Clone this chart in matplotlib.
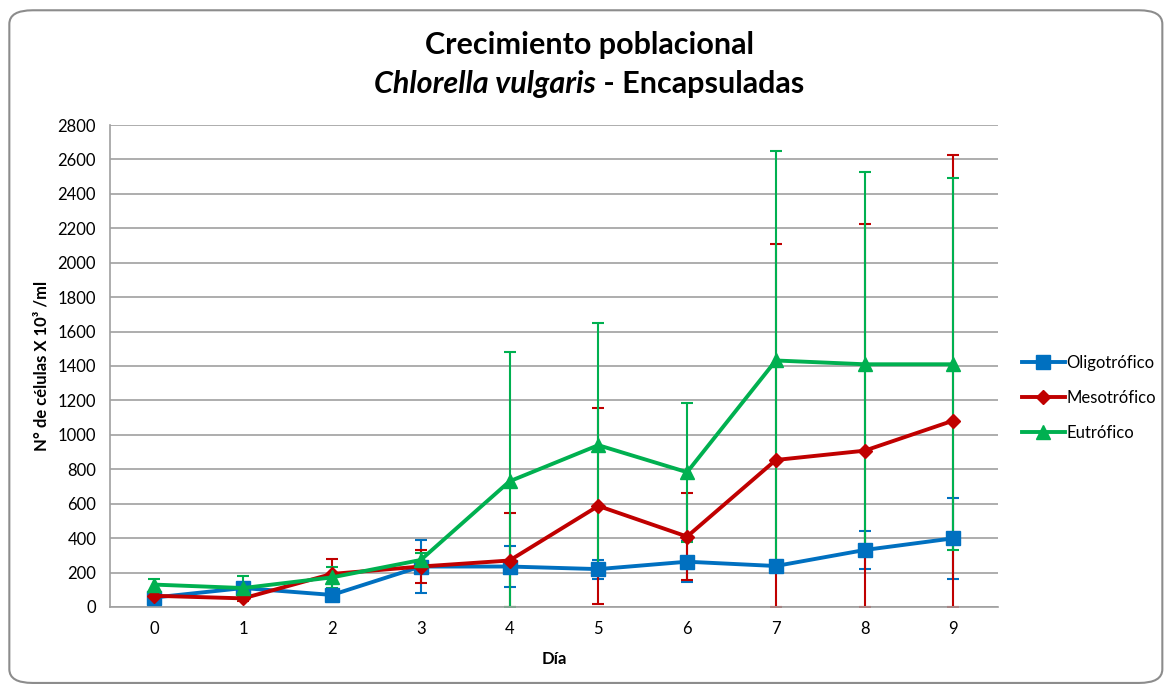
import matplotlib.pyplot as plt
from matplotlib.patches import FancyBboxPatch

dias = [0, 1, 2, 3, 4, 5, 6, 7, 8, 9]

oligo = [55, 110, 70, 235, 235, 220, 263, 238, 331, 399]
oligo_err = [15, 20, 15, 155, 120, 55, 120, 20, 108, 235]

meso = [65, 50, 192, 235, 270, 587, 409, 854, 908, 1083]
meso_err = [15, 15, 88, 97, 274, 570, 255, 1253, 1316, 1545]

eutro = [130, 110, 172, 273, 730, 940, 783, 1432, 1410, 1410]
eutro_err = [35, 70, 62, 42, 753, 710, 404, 1218, 1116, 1080]

series = [
    ("Oligotrófico", oligo, oligo_err, "#0070C0", "s", 10),
    ("Mesotrófico", meso, meso_err, "#C00000", "D", 7.5),
    ("Eutrófico", eutro, eutro_err, "#00B050", "^", 10),
]

plt.rcParams['font.family'] = ['Lato', 'DejaVu Sans']

fig = plt.figure(figsize=(11.67, 6.85), dpi=100)
ax = fig.add_axes([0.0943, 0.1139, 0.7607, 0.7036])

for i, (nombre, vals, err, color, marker, ms) in enumerate(series):
    # barras de error por debajo de las lineas, recortadas en cero
    lower = [min(e, v) for v, e in zip(vals, err)]
    ax.errorbar(dias, vals, yerr=[lower, err], fmt='none', ecolor=color,
                elinewidth=1.5, capsize=4, capthick=1.5, zorder=2 + i * 0.1)
    ax.plot(dias, vals, color=color, lw=2.8, marker=marker, ms=ms,
            label=nombre, zorder=4 + i)

ax.set_xlim(-0.5, 9.5)
ax.set_ylim(0, 2800)
ax.set_xticks(dias)
ax.set_yticks(range(0, 2801, 200))
ax.tick_params(axis='both', length=0, labelsize=12, pad=10)
ax.grid(axis='y', color='#A0A0A0', lw=1.2)
ax.set_axisbelow(True)
for s in ['top', 'right']:
    ax.spines[s].set_visible(False)
for s in ['left', 'bottom']:
    ax.spines[s].set_color('#A0A0A0')
    ax.spines[s].set_linewidth(1.2)

ax.set_xlabel("Día", fontsize=12, fontweight='bold', labelpad=10)
ax.set_ylabel("N° de células X 10³ /ml", fontsize=12, fontweight='bold', labelpad=6)

fig.text(0.505, 0.935, "Crecimiento poblacional", ha='center', va='center',
         fontsize=22, fontweight='bold')
t1 = fig.text(0.0, 0.877, "Chlorella vulgaris", ha='left', va='center',
              fontsize=22, fontweight='bold', style='italic')
t2 = fig.text(0.0, 0.877, " - Encapsuladas", ha='left', va='center',
              fontsize=22, fontweight='bold')
fig.canvas.draw()
r = fig.canvas.get_renderer()
w1 = t1.get_window_extent(r).width / fig.bbox.width
w2 = t2.get_window_extent(r).width / fig.bbox.width
x0 = 0.505 - (w1 + w2) / 2
t1.set_x(x0)
t2.set_x(x0 + w1)

ax.legend(loc='center left', bbox_to_anchor=(1.01, 0.434), frameon=False,
          fontsize=12, handlelength=2.6, labelspacing=1.15, handletextpad=0.1)

fig.patches.append(FancyBboxPatch((0.008, 0.003), 0.988, 0.982,
                                  boxstyle="round,pad=0,rounding_size=0.02",
                                  transform=fig.transFigure, fill=False,
                                  edgecolor='#8C8C8C', lw=1.5))

fig.savefig("out.png", dpi=100)
